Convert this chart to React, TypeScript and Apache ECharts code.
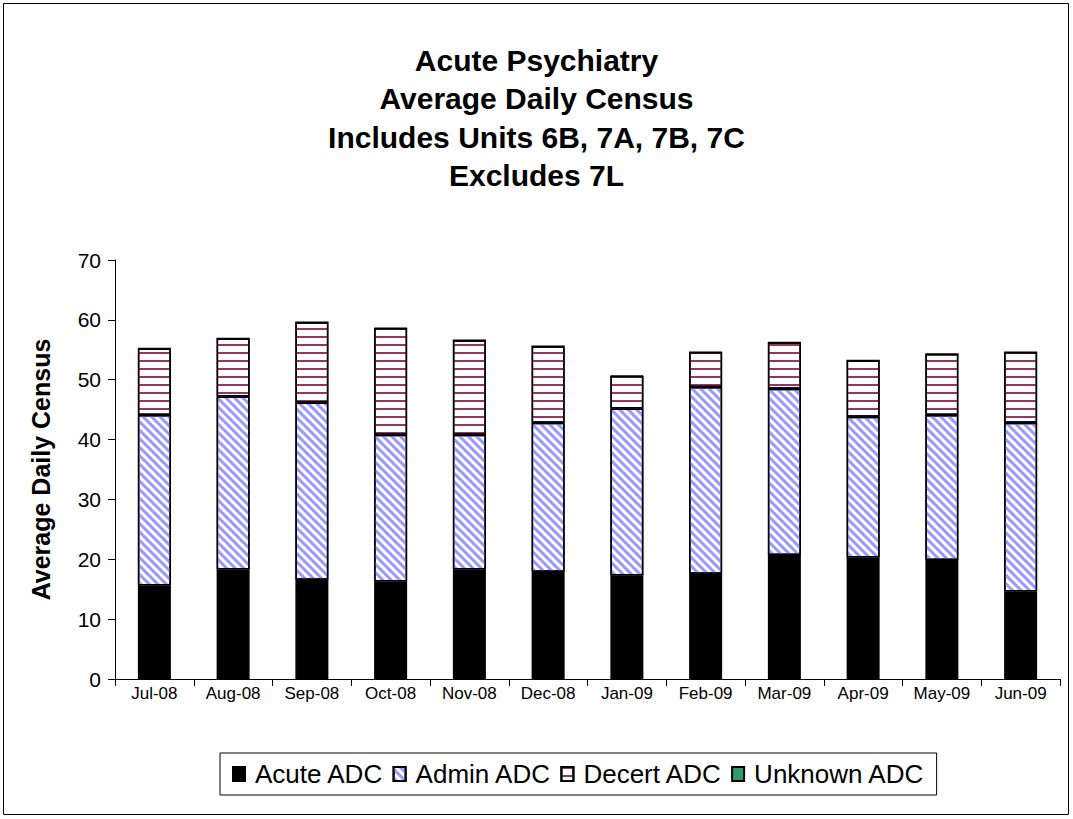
import React, { useEffect, useRef } from "react";
import * as echarts from "echarts";

const categories = ["Jul-08", "Aug-08", "Sep-08", "Oct-08", "Nov-08", "Dec-08", "Jan-09", "Feb-09", "Mar-09", "Apr-09", "May-09", "Jun-09"];
const acuteADC = [15.6, 18.3, 16.6, 16.3, 18.3, 17.9, 17.3, 17.6, 20.7, 20.3, 19.9, 14.6];
const adminADC = [28.5, 28.9, 29.6, 24.5, 22.5, 24.9, 27.9, 31.2, 27.8, 23.5, 24.2, 28.2];
const decertADC = [11.1, 9.7, 13.4, 17.8, 15.8, 12.8, 5.4, 5.8, 7.7, 9.4, 10.2, 11.8];
const unknownADC = [0, 0, 0, 0, 0, 0, 0, 0, 0, 0, 0, 0];
const yTicks = [0, 10, 20, 30, 40, 50, 60, 70];

const FONT = "'Liberation Sans', Arial, sans-serif";

export default function App() {
  const ref = useRef<HTMLDivElement>(null);
  useEffect(() => {
    if (!ref.current) return;
    const chart = echarts.init(ref.current, null, { renderer: "svg" });
    const border = { borderColor: "#000", borderWidth: 1.5 };
    chart.setOption({
      animation: false,
      backgroundColor: "#fff",
      title: {
        text: "Acute Psychiatry\nAverage Daily Census\nIncludes Units 6B, 7A, 7B, 7C\nExcludes 7L",
        left: "center",
        top: 36,
        textStyle: { fontFamily: FONT, fontSize: 30, fontWeight: "bold", color: "#000", lineHeight: 38.5 },
      },
      graphic: [
        { type: "rect", shape: { x: 3.5, y: 3.5, width: 1065, height: 811 }, style: { fill: "none", stroke: "#000", lineWidth: 1 }, silent: true },
      ],
      legend: {
        bottom: 24,
        left: 220,
        icon: "rect",
        itemWidth: 12,
        itemHeight: 14,
        itemGap: 9,
        padding: [8, 12, 8, 12],
        borderColor: "#000",
        borderWidth: 1,
        textStyle: { fontFamily: FONT, fontSize: 26, color: "#000", padding: [0, 0, 0, 5] },
        data: ["Acute ADC", "Admin ADC", "Decert ADC", "Unknown ADC"],
      },
      grid: { left: 115, right: 13, top: 260, bottom: 140, containLabel: false },
      xAxis: {
        type: "category",
        data: categories,
        boundaryGap: true,
        axisLine: { lineStyle: { color: "#000", width: 1 } },
        axisTick: { show: true, alignWithLabel: false, length: 7, lineStyle: { color: "#000" } },
        axisLabel: { fontFamily: FONT, fontSize: 17, color: "#000", margin: 6 },
      },
      yAxis: {
        type: "value",
        min: yTicks[0],
        max: yTicks[yTicks.length - 1],
        interval: 10,
        name: "Average Daily Census",
        nameLocation: "middle",
        nameGap: 62,
        nameRotate: 90,
        nameTextStyle: { fontFamily: FONT, fontSize: 25, fontWeight: "bold", color: "#000" },
        axisLine: { show: true, lineStyle: { color: "#000", width: 1 } },
        axisTick: { show: true, length: 7, lineStyle: { color: "#000" } },
        splitLine: { show: false },
        axisLabel: { fontFamily: FONT, fontSize: 21, color: "#000", margin: 14 },
      },
      series: [
        {
          name: "Acute ADC",
          type: "bar",
          stack: "total",
          barWidth: 33,
          data: acuteADC,
          itemStyle: { color: "#000", ...border },
        },
        {
          name: "Admin ADC",
          type: "bar",
          stack: "total",
          barWidth: 33,
          data: adminADC,
          itemStyle: {
            color: "#fff",
            ...border,
            decal: {
              symbol: "rect",
              color: "#9999ff",
              backgroundColor: "#ffffff",
              dashArrayX: [1, 0],
              dashArrayY: [2.5, 2.5],
              rotation: Math.PI / 4,
            },
          },
        },
        {
          name: "Decert ADC",
          type: "bar",
          stack: "total",
          barWidth: 33,
          data: decertADC,
          itemStyle: {
            color: "#fff",
            ...border,
            decal: {
              symbol: "rect",
              color: "#993366",
              backgroundColor: "#ffffff",
              dashArrayX: [1, 0],
              dashArrayY: [2, 5.7],
              rotation: 0,
            },
          },
        },
        {
          name: "Unknown ADC",
          type: "bar",
          stack: "total",
          barWidth: 33,
          data: unknownADC,
          itemStyle: { color: "#339966", ...border },
        },
      ],
    });
    return () => chart.dispose();
  }, []);
  return <div ref={ref} style={{ position: "fixed", left: 0, top: 0, width: 1073, height: 819 }} />;
}
